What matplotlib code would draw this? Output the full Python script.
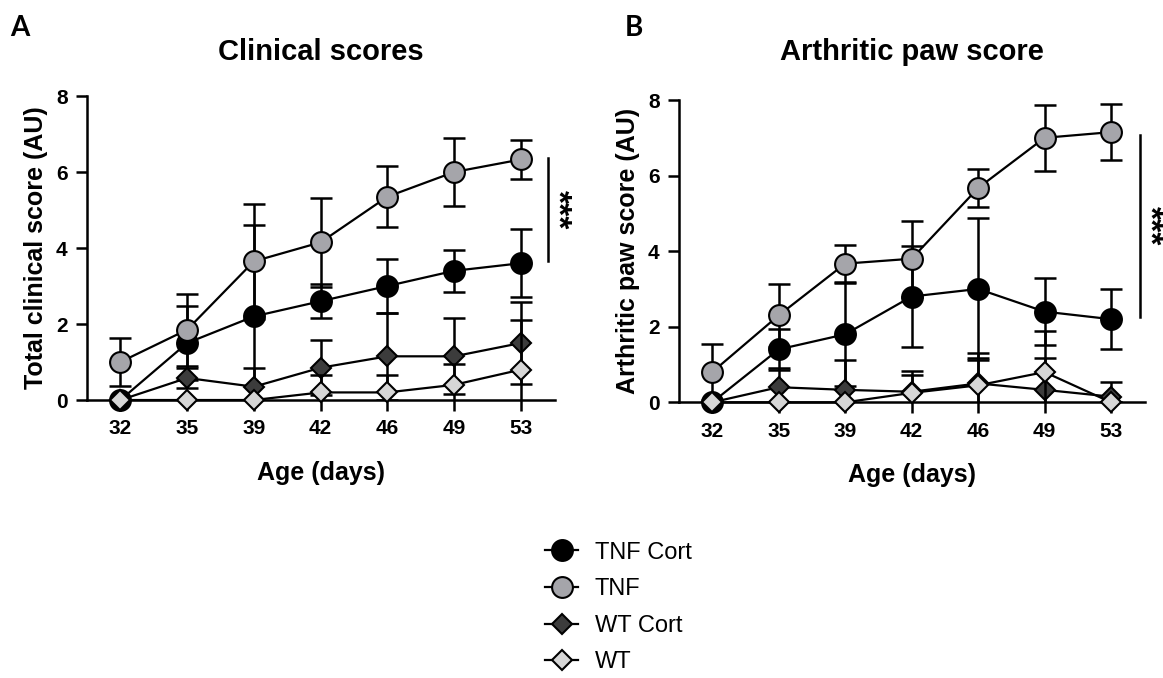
import matplotlib
matplotlib.use("Agg")
import matplotlib.pyplot as plt

plt.rcParams['font.family'] = ['Liberation Sans', 'DejaVu Sans']

# Datos (media y desviación)
days = ["32", "35", "39", "42", "46", "49", "53"]
groups = ["TNF Cort", "TNF", "WT Cort", "WT"]

# Panel A: puntuación clínica total
tnf_cort_A = [0, 1.5, 2.2, 2.6, 3.0, 3.4, 3.6]
tnf_cort_A_sd = [0, 0.97, 2.4, 0.45, 0.7, 0.55, 0.9]
tnf_A = [1.0, 1.85, 3.65, 4.15, 5.35, 6.0, 6.33]
tnf_A_sd = [0.62, 0.95, 1.52, 1.17, 0.8, 0.9, 0.52]
wt_cort_A = [0, 0.58, 0.35, 0.85, 1.15, 1.15, 1.5]
wt_cort_A_sd = [0, 0.26, 0.48, 0.73, 1.15, 1.0, 1.08]
wt_A = [0, 0, 0, 0.2, 0.2, 0.4, 0.8]
wt_A_sd = [0, 0, 0, 0.45, 0.45, 0.55, 1.3]

# Panel B: puntuación de patas artríticas
tnf_cort_B = [0, 1.4, 1.8, 2.8, 3.0, 2.4, 2.2]
tnf_cort_B_sd = [0, 0.55, 1.37, 1.33, 1.87, 0.88, 0.8]
tnf_B = [0.8, 2.3, 3.67, 3.8, 5.67, 7.0, 7.15]
tnf_B_sd = [0.75, 0.84, 0.49, 1.0, 0.5, 0.88, 0.75]
wt_cort_B = [0, 0.4, 0.33, 0.28, 0.5, 0.33, 0.15]
wt_cort_B_sd = [0, 0.5, 0.8, 0.55, 0.8, 0.83, 0.4]
wt_B = [0, 0, 0, 0.25, 0.45, 0.8, 0]
wt_B_sd = [0, 0, 0, 0.47, 0.73, 1.1, 0]

# estilo de cada grupo: marcador, relleno, tamaño
styles = {
    "TNF Cort": ("o", "#000000", 15),
    "TNF": ("o", "#a5a5aa", 15),
    "WT Cort": ("D", "#3c3c3c", 10),
    "WT": ("D", "#d6d6d6", 10),
}

fig = plt.figure(figsize=(11.63, 6.78), dpi=100)
axA = fig.add_axes([0.0748, 0.410, 0.4024, 0.4484])
axB = fig.add_axes([0.5838, 0.4066, 0.4007, 0.4459])

x = list(range(len(days)))


def panel(ax, series, ylabel, title, title_x, letter, letter_x, sig_x, sig_y, star_x):
    handles = []
    z = 2
    for name, (vals, sd) in zip(groups, series):
        marker, color, ms = styles[name]
        ax.errorbar(x, vals, yerr=sd, fmt="none", ecolor="black", elinewidth=1.8,
                    capsize=8, capthick=1.8, zorder=z)
        line, = ax.plot(x, vals, color="black", lw=1.6, marker=marker, ms=ms,
                        mfc=color, mec="black", mew=1.5, zorder=z + 1, clip_on=False,
                        label=name)
        handles.append(line)
        z += 2
    ax.set_xlim(-0.5, 6.51)
    ax.set_ylim(0, 8)
    ax.set_xticks(x)
    ax.set_xticklabels(days)
    ax.set_yticks([0, 2, 4, 6, 8])
    for s in ["top", "right"]:
        ax.spines[s].set_visible(False)
    for s in ["left", "bottom"]:
        ax.spines[s].set_linewidth(1.8)
    ax.tick_params(axis="both", direction="out", length=8, width=1.8, labelsize=15, pad=6)
    for lab in ax.get_xticklabels() + ax.get_yticklabels():
        lab.set_fontweight("bold")
    ax.set_xlabel("Age (days)", fontsize=18, fontweight="bold", labelpad=16)
    ax.set_ylabel(ylabel, fontsize=18, fontweight="bold", labelpad=6)
    # barra de significancia
    ax.plot([sig_x, sig_x], sig_y, color="black", lw=1.8, clip_on=False)
    ax.text(star_x, sum(sig_y) / 2, "***", rotation=-90, ha="center", va="center",
            fontsize=24, fontweight="bold", clip_on=False)
    fig.text(title_x, 1 - 52 / 678, title, ha="center", va="center",
             fontsize=21, fontweight="bold")
    fig.text(letter_x, 1 - 28 / 678, letter, ha="left", va="center",
             fontsize=20, fontweight="bold", family=["Lato", "DejaVu Sans"])
    return handles


handles = panel(axA, [(tnf_cort_A, tnf_cort_A_sd), (tnf_A, tnf_A_sd),
                      (wt_cort_A, wt_cort_A_sd), (wt_A, wt_A_sd)],
                "Total clinical score (AU)", "Clinical scores", 321 / 1163,
                "A", 10 / 1163, 6.41, (3.67, 6.36), 6.53)
panel(axB, [(tnf_cort_B, tnf_cort_B_sd), (tnf_B, tnf_B_sd),
            (wt_cort_B, wt_cort_B_sd), (wt_B, wt_B_sd)],
      "Arthritic paw score (AU)", "Arthritic paw score", 912 / 1163,
      "B", 625 / 1163, 6.44, (2.26, 7.07), 6.57)

fig.legend(handles=handles, labels=groups, loc="center left",
           bbox_to_anchor=(545 / 1163, 1 - 607.5 / 678), frameon=False,
           fontsize=17, handlelength=1.4, handletextpad=0.7, labelspacing=0.62,
           borderpad=0, borderaxespad=0)

plt.savefig("out.png", dpi=100)
